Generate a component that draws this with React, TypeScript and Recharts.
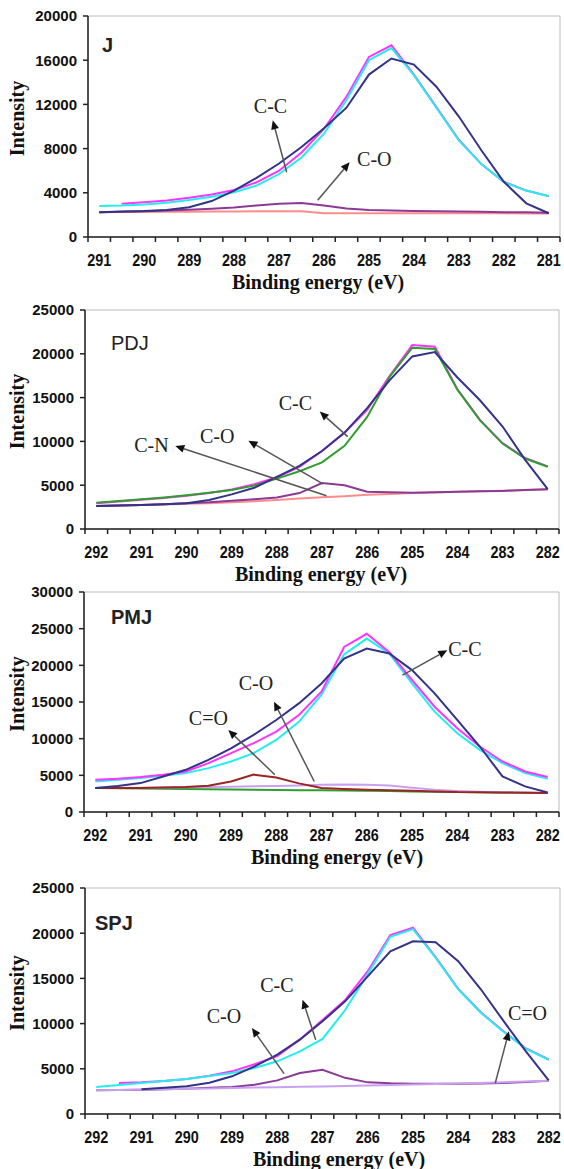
import React from 'react';
import { LineChart, Line, XAxis, YAxis, ReferenceLine, ReferenceDot, ReferenceArea } from 'recharts';

// binding energy grids (eV)
const jEnergy = [291, 290.5, 290, 289.5, 289, 288.5, 288, 287.5, 287, 286.5, 286, 285.5, 285, 284.5, 284, 283.5, 283, 282.5, 282, 281.5, 281];
const energy292 = [292, 291.5, 291, 290.5, 290, 289.5, 289, 288.5, 288, 287.5, 287, 286.5, 286, 285.5, 285, 284.5, 284, 283.5, 283, 282.5, 282];

const jXLabels = [291, 290, 289, 288, 287, 286, 285, 284, 283, 282, 281];
const xLabels292 = [292, 291, 290, 289, 288, 287, 286, 285, 284, 283, 282];

const jYTicks = [0, 4000, 8000, 12000, 16000, 20000];
const yTicks25 = [0, 5000, 10000, 15000, 20000, 25000];
const yTicks30 = [0, 5000, 10000, 15000, 20000, 25000, 30000];

// J
const jRaw = [2250, 2300, 2350, 2450, 2700, 3250, 4200, 5350, 6650, 8150, 9850, 11700, 14700, 16150, 15600, 13600, 10900, 7850, 5000, 3050, 2150];
const jEnvelope = [null, 3000, 3150, 3300, 3550, 3850, 4250, 4950, 6000, 7650, 9800, 12700, 16300, 17350, 14700, 11750, 8800, 6600, 5000, 4200, 3700];
const jCC = [2800, 2850, 2950, 3100, 3350, 3650, 4050, 4650, 5700, 7200, 9350, 12400, 16000, 17100, 14650, 11700, 8750, 6600, 4980, 4200, 3680];
const jCO = [2250, 2280, 2330, 2400, 2470, 2560, 2680, 2850, 3000, 3080, 2850, 2580, 2450, 2400, 2350, 2330, 2300, 2280, 2250, 2230, 2200];
const jBackground = [2250, 2260, 2270, 2280, 2290, 2300, 2310, 2320, 2330, 2330, 2150, 2150, 2150, 2150, 2150, 2150, 2150, 2140, 2140, 2130, 2120];

// PDJ
const pdjRaw = [2630, 2680, 2740, 2820, 2950, 3300, 3950, 4700, 5950, 7200, 8900, 11000, 13800, 17000, 19700, 20200, 17300, 14700, 11700, 7900, 4550];
const pdjEnvelope = [2950, 3150, 3350, 3550, 3800, 4100, 4500, 5100, 5900, 7100, 8900, 11000, 13600, 17500, 21000, 20800, 15950, 12450, 9800, 8100, 7150];
const pdjCC = [3000, 3200, 3400, 3600, 3850, 4150, 4450, 4950, 5750, 6600, 7600, 9500, 12800, 17400, 20700, 20550, 15900, 12400, 9750, 8050, 7100];
const pdjCO = [2630, 2680, 2740, 2820, 2930, 3050, 3230, 3400, 3600, 4100, 5250, 5000, 4260, 4200, 4150, 4200, 4250, 4300, 4350, 4450, 4530];
const pdjBackground = [2630, 2680, 2740, 2800, 2870, 2950, 3050, 3180, 3320, 3470, 3620, 3750, 3900, 4000, 4100, 4180, 4250, 4320, 4380, 4450, 4530];

// PMJ
const pmjRaw = [3260, 3550, 3940, 4850, 5750, 7110, 8690, 10510, 12550, 14810, 17530, 20930, 22300, 21610, 19350, 16180, 12550, 8930, 4850, 3490, 2670];
const pmjEnvelope = [4390, 4550, 4760, 5070, 5530, 6660, 8020, 9380, 10960, 13230, 16400, 22500, 24300, 21800, 18000, 14360, 11420, 8930, 6890, 5530, 4760];
const pmjCC = [4170, 4400, 4620, 4950, 5300, 5980, 6890, 8020, 9830, 12300, 16000, 21500, 23650, 21610, 17530, 13680, 10740, 8470, 6660, 5300, 4530];
const pmjCdO = [3260, 3260, 3260, 3330, 3400, 3580, 4170, 5100, 4700, 3900, 3260, 3150, 3040, 2970, 2900, 2810, 2720, 2700, 2670, 2620, 2580];
const pmjCO = [3260, 3280, 3300, 3330, 3360, 3400, 3450, 3500, 3550, 3620, 3700, 3750, 3720, 3600, 3300, 3050, 2880, 2750, 2670, 2620, 2580];
const pmjBackground = [3260, 3230, 3200, 3170, 3130, 3100, 3070, 3040, 3010, 2980, 2950, 2920, 2890, 2850, 2800, 2760, 2720, 2680, 2640, 2610, 2580];

// SPJ
const spjRaw = [null, null, 2750, 2900, 3060, 3450, 4170, 5270, 6560, 8220, 10250, 12460, 15230, 17990, 19100, 19000, 16900, 13800, 10300, 6900, 3720];
const spjEnvelope = [null, 3430, 3500, 3650, 3880, 4220, 4720, 5500, 6400, 8250, 10400, 12600, 15800, 19800, 20600, 17350, 13850, 11250, 9150, 7250, 6050];
const spjCC = [2990, 3200, 3430, 3650, 3870, 4200, 4540, 5090, 5830, 6930, 8300, 11500, 15500, 19600, 20450, 17300, 13800, 11200, 9100, 7200, 6000];
const spjCO = [2620, 2650, 2690, 2740, 2800, 2890, 2990, 3240, 3720, 4540, 4900, 4000, 3500, 3400, 3360, 3360, 3360, 3380, 3430, 3550, 3690];
const spjBackground = [2620, 2660, 2700, 2740, 2790, 2830, 2870, 2920, 2960, 3010, 3050, 3100, 3150, 3200, 3250, 3310, 3370, 3440, 3520, 3600, 3690];

// annotations: label position and arrow (tail -> head), in data units
const jNotes = [
  { text: 'C-C', at: [287.19, 11900], from: [286.83, 5855], to: [287.14, 10555] },
  { text: 'C-O', at: [284.88, 7030], from: [286.14, 3320], to: [285.43, 6760] },
];
const pdjNotes = [
  { text: 'C-C', at: [287.59, 14350], from: [286.43, 10540], to: [287.05, 13400] },
  { text: 'C-O', at: [289.32, 10650], from: [286.98, 5140], to: [288.63, 10080] },
  { text: 'C-N', at: [290.78, 9590], from: [286.9, 3800], to: [290.25, 9480] },
];
const pmjNotes = [
  { text: 'C-C', at: [283.83, 22200], from: [285.21, 18670], to: [284.22, 22070] },
  { text: 'C-O', at: [288.45, 17540], from: [287.16, 4160], to: [288.05, 15040] },
  { text: 'C=O', at: [289.5, 12780], from: [288.03, 5070], to: [289.06, 11190] },
];
const spjNotes = [
  { text: 'C-C', at: [288.01, 14300], from: [287.15, 8220], to: [287.44, 12640] },
  { text: 'C-O', at: [289.18, 10800], from: [287.85, 4460], to: [288.56, 9510] },
  { text: 'C=O', at: [282.47, 11170], from: [283.18, 3430], to: [282.88, 9140] },
];

const NAVY = '#333388';
const MAGENTA = '#ff33ff';
const CYAN = '#22eeee';
const PURPLE = '#8b3a96';
const SALMON = '#ff8c8c';
const GREEN = '#2e9e2e';
const BROWN = '#9b2424';
const LAVENDER = '#c9a0f0';

const SANS = "'Liberation Sans', Arial, sans-serif";
const SERIF = "'Liberation Serif', 'Times New Roman', serif";

const buildRows = (energy: number[], series: { key: string; values: (number | null)[] }[]) =>
  energy.map((e, i) => {
    const row: Record<string, number | null> = { e };
    series.forEach((s) => (row[s.key] = s.values[i]));
    return row;
  });

const XTick = (props: any) => {
  const { x, y, payload } = props;
  const v = Number(payload.value);
  if (Number.isInteger(v)) {
    return (
      <text x={x} y={y + 29} textAnchor="middle" fontFamily={SANS} fontWeight="bold" fontSize={16} fill="#111"
        textLength={24} lengthAdjust="spacingAndGlyphs">
        {v}
      </text>
    );
  }
  return <line x1={x} x2={x} y1={y} y2={y + 5} stroke="#222" strokeWidth={1.5} />;
};

const arrowShape = (p: any) => {
  const { x1, y1, x2, y2 } = p;
  const dx = x2 - x1;
  const dy = y2 - y1;
  const len = Math.hypot(dx, dy) || 1;
  const ux = dx / len;
  const uy = dy / len;
  const bx = x2 - ux * 9;
  const by = y2 - uy * 9;
  const pts = `${x2},${y2} ${bx - uy * 4},${by + ux * 4} ${bx + uy * 4},${by - ux * 4}`;
  return (
    <g>
      <line x1={x1} y1={y1} x2={bx} y2={by} stroke="#555" strokeWidth={1.5} />
      <polygon points={pts} fill="#111" />
    </g>
  );
};

type PanelProps = {
  top: number;
  height: number;
  plot: { left: number; right: number; top: number; bottom: number };
  domain: [number, number];
  yMax: number;
  yTicks: number[];
  labels: number[];
  rows: Record<string, number | null>[];
  lines: { key: string; color: string }[];
  notes: { text: string; at: number[]; from: number[]; to: number[] }[];
  tag: string;
  tagLeft: number;
  tagY: number;
  tagWeight: string;
  titleX: number;
};

const Panel = (p: PanelProps) => {
  const ticks = [...p.labels, ...p.labels.flatMap((v) => [v + 0.25, v - 0.25])]
    .filter((v, i, a) => a.indexOf(v) === i)
    .sort((a, b) => a - b);
  return (
    <div style={{ position: 'absolute', left: 0, top: p.top, width: 564, height: p.height }}>
      <LineChart
        width={564}
        height={p.height}
        data={p.rows}
        margin={{ top: p.plot.top - p.top, right: 564 - p.plot.right, left: 0, bottom: 0 }}
      >
        <ReferenceArea x1={p.domain[0]} x2={p.domain[1]} y1={0} y2={p.yMax} fill="none" stroke="#bbb" strokeWidth={1} ifOverflow="visible" />
        <XAxis
          dataKey="e"
          type="number"
          domain={p.domain}
          reversed
          allowDataOverflow
          ticks={ticks}
          interval={0}
          tickSize={0}
          tickMargin={0}
          tickLine={false}
          tick={<XTick />}
          axisLine={{ stroke: '#222', strokeWidth: 1.5 }}
          height={p.top + p.height - p.plot.bottom}
          label={{
            content: (lp: any) => (
              <text x={p.titleX} y={lp.viewBox.y + 52} textAnchor="middle" fontFamily={SERIF} fontWeight="bold" fontSize={20} fill="#111">
                Binding energy (eV)
              </text>
            ),
          }}
        />
        <YAxis
          type="number"
          domain={[0, p.yMax]}
          ticks={p.yTicks}
          interval={0}
          width={p.plot.left}
          tickSize={5}
          tickMargin={6}
          tickLine={{ stroke: '#222', strokeWidth: 1.5 }}
          axisLine={{ stroke: '#222', strokeWidth: 1.5 }}
          tick={{ fontFamily: SANS, fontWeight: 'bold', fontSize: 15, fill: '#111' }}
          label={{
            content: (lp: any) => {
              const cy = lp.viewBox.y + lp.viewBox.height / 2 - 8;
              return (
                <text x={17} y={cy} transform={`rotate(-90 17 ${cy})`} textAnchor="middle" dominantBaseline="central"
                  fontFamily={SERIF} fontWeight="bold" fontSize={20} fill="#111">
                  Intensity
                </text>
              );
            },
          }}
        />
        {p.lines.map((l) => (
          <Line key={l.key} dataKey={l.key} type="linear" stroke={l.color} strokeWidth={2} dot={false}
            isAnimationActive={false} connectNulls={false} />
        ))}
        {p.notes.map((n) => (
          <ReferenceLine key={n.text + 'a'} segment={[{ x: n.from[0], y: n.from[1] }, { x: n.to[0], y: n.to[1] }]}
            shape={arrowShape} ifOverflow="visible" />
        ))}
        {p.notes.map((n) => (
          <ReferenceDot key={n.text + 'l'} x={n.at[0]} y={n.at[1]} r={0} ifOverflow="visible"
            shape={(d: any) => (
              <text x={d.cx} y={d.cy} textAnchor="middle" dominantBaseline="central" fontFamily={SERIF} fontSize={20} fill="#222">
                {n.text}
              </text>
            )}
          />
        ))}
      </LineChart>
      <div style={{ position: 'absolute', left: p.tagLeft, top: p.tagY - p.top - 12, fontFamily: SANS, fontWeight: p.tagWeight as any, fontSize: 20, lineHeight: '24px', color: '#222' }}>
        {p.tag}
      </div>
    </div>
  );
}

export default function App() {
  return (
    <div style={{ position: 'absolute', left: 0, top: 0, width: 564, height: 1169, background: '#fff' }}>
      <Panel
        top={0} height={300}
        plot={{ left: 88, right: 560, top: 16, bottom: 237 }}
        domain={[280.75, 291.25]} yMax={20000} yTicks={jYTicks} labels={jXLabels}
        rows={buildRows(jEnergy, [
          { key: 'bg', values: jBackground }, { key: 'co', values: jCO }, { key: 'env', values: jEnvelope },
          { key: 'cc', values: jCC }, { key: 'raw', values: jRaw },
        ])}
        lines={[{ key: 'bg', color: SALMON }, { key: 'co', color: PURPLE }, { key: 'env', color: MAGENTA }, { key: 'cc', color: CYAN }, { key: 'raw', color: NAVY }]}
        notes={jNotes} tag="J" tagLeft={102} tagY={45} tagWeight="bold" titleX={318}
      />
      <Panel
        top={292} height={298}
        plot={{ left: 85, right: 559, top: 310, bottom: 529 }}
        domain={[281.75, 292.25]} yMax={25000} yTicks={yTicks25} labels={xLabels292}
        rows={buildRows(energy292, [
          { key: 'bg', values: pdjBackground }, { key: 'co', values: pdjCO }, { key: 'env', values: pdjEnvelope },
          { key: 'cc', values: pdjCC }, { key: 'raw', values: pdjRaw },
        ])}
        lines={[{ key: 'bg', color: SALMON }, { key: 'co', color: PURPLE }, { key: 'env', color: MAGENTA }, { key: 'cc', color: GREEN }, { key: 'raw', color: NAVY }]}
        notes={pdjNotes} tag="PDJ" tagLeft={111} tagY={343} tagWeight="normal" titleX={321}
      />
      <Panel
        top={582} height={298}
        plot={{ left: 84, right: 559, top: 592, bottom: 812 }}
        domain={[281.75, 292.25]} yMax={30000} yTicks={yTicks30} labels={xLabels292}
        rows={buildRows(energy292, [
          { key: 'bg', values: pmjBackground }, { key: 'co', values: pmjCO }, { key: 'cdo', values: pmjCdO },
          { key: 'cc', values: pmjCC }, { key: 'env', values: pmjEnvelope }, { key: 'raw', values: pmjRaw },
        ])}
        lines={[{ key: 'bg', color: GREEN }, { key: 'co', color: LAVENDER }, { key: 'cdo', color: BROWN }, { key: 'cc', color: CYAN }, { key: 'env', color: MAGENTA }, { key: 'raw', color: NAVY }]}
        notes={pmjNotes} tag="PMJ" tagLeft={111} tagY={617} tagWeight="bold" titleX={337}
      />
      <Panel
        top={872} height={297}
        plot={{ left: 85, right: 560, top: 888, bottom: 1114 }}
        domain={[281.75, 292.25]} yMax={25000} yTicks={yTicks25} labels={xLabels292}
        rows={buildRows(energy292, [
          { key: 'co', values: spjCO }, { key: 'bg', values: spjBackground }, { key: 'env', values: spjEnvelope },
          { key: 'cc', values: spjCC }, { key: 'raw', values: spjRaw },
        ])}
        lines={[{ key: 'co', color: PURPLE }, { key: 'bg', color: LAVENDER }, { key: 'env', color: MAGENTA }, { key: 'cc', color: CYAN }, { key: 'raw', color: NAVY }]}
        notes={spjNotes} tag="SPJ" tagLeft={95} tagY={923} tagWeight="bold" titleX={339}
      />
    </div>
  );
}
